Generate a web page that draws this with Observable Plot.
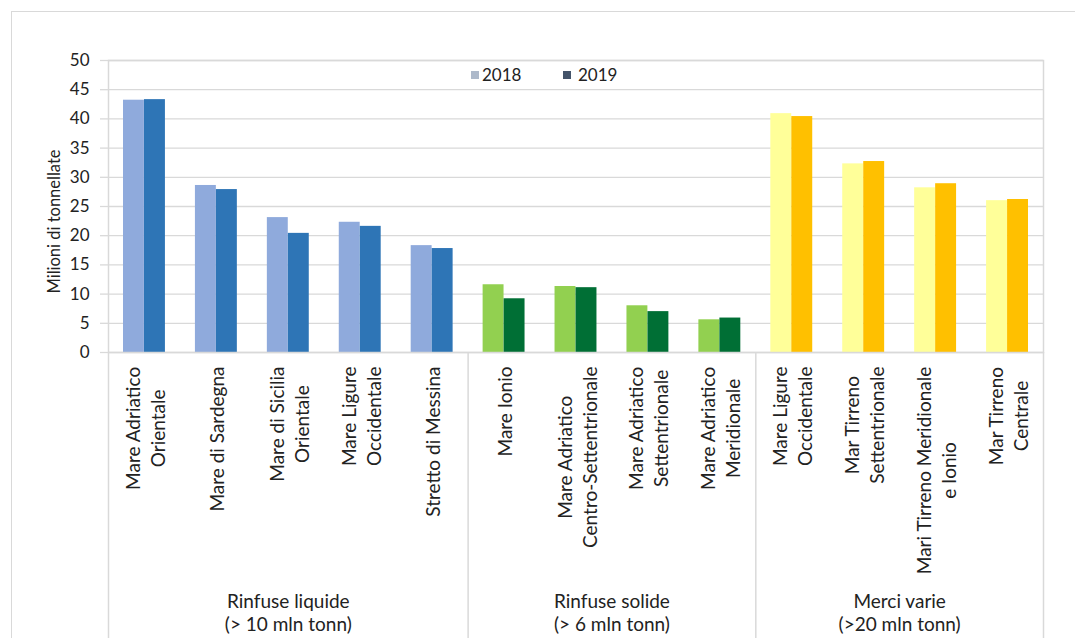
<!DOCTYPE html>
<html><head><meta charset="utf-8">
<script src="https://cdn.jsdelivr.net/npm/d3@7"></script>
<script src="https://cdn.jsdelivr.net/npm/@observablehq/plot@0.6"></script>
<style>
body{margin:0;background:#fff;font-family:Lato,sans-serif}
#wrap{position:relative;width:1075px;height:638px;overflow:hidden;background:#fff}
#border{position:absolute;left:11px;top:11px;width:1200px;height:800px;border-left:1.5px solid #d9d9d9;border-top:1.5px solid #d9d9d9}
#chart{position:absolute;left:0;top:0}
.lg{position:absolute;font-size:17px;color:#222;line-height:20px}
.sw{position:absolute;width:8px;height:8px}
</style></head>
<body>
<div id="wrap"><div id="border"></div><div id="chart"></div>
<div class="sw" style="left:471px;top:71px;background:#ADB9CA"></div><div class="lg" style="left:482px;top:65px">2018</div>
<div class="sw" style="left:563px;top:71px;background:#44546A"></div><div class="lg" style="left:578px;top:65px">2019</div>
</div>
<script>
const categories = [
  "Mare Adriatico\nOrientale","Mare di Sardegna","Mare di Sicilia\nOrientale","Mare Ligure\nOccidentale","Stretto di Messina",
  "Mare Ionio","Mare Adriatico\nCentro-Settentrionale","Mare Adriatico\nSettentrionale","Mare Adriatico\nMeridionale",
  "Mare Ligure\nOccidentale","Mar Tirreno\nSettentrionale","Mari Tirreno Meridionale\ne Ionio","Mar Tirreno\nCentrale"
];
const groupOf = [0,0,0,0,0,1,1,1,1,2,2,2,2];
const groupLabels = ["Rinfuse liquide\n(> 10 mln tonn)","Rinfuse solide\n(> 6 mln tonn)","Merci varie\n(>20 mln tonn)"];
const v2018 = [43.2,28.6,23.1,22.3,18.3, 11.6,11.3,8.0,5.6, 40.9,32.3,28.2,26.0];
const v2019 = [43.3,27.9,20.4,21.6,17.8, 9.2,11.1,7.0,5.9, 40.4,32.7,28.9,26.2];
const years = ["2018","2019"];
const yTicks = [0,5,10,15,20,25,30,35,40,45,50];
const colorKeys = ["0-2018","0-2019","1-2018","1-2019","2-2018","2-2019"];
const colorRange = ["#8FAADC","#2E75B6","#92D050","#006F35","#FFFF99","#FFC000"];

const W=1075,H=638,mL=108,mR=32,mT=60,mB=286;
const step=(W-mL-mR)/categories.length;
// unique keys (a category name can repeat across groups)
const ids = categories.map((c,i)=>groupOf[i]+"|"+c);
const rows = categories.flatMap((c,i)=>[
  {id:ids[i],year:"2018",value:v2018[i],key:groupOf[i]+"-2018"},
  {id:ids[i],year:"2019",value:v2019[i],key:groupOf[i]+"-2019"}]);
const labelFont = 19;
const ctx=document.createElement("canvas").getContext("2d");
ctx.font=labelFont+"px Lato";
const textW=s=>Math.max(...s.split("\n").map(l=>ctx.measureText(l).width));
const groupIds = groupLabels.map((g,gi)=>ids.filter((c,i)=>groupOf[i]===gi));
const grid="#d9d9d9";

const chart = Plot.plot({
  width:W,height:H,marginLeft:mL,marginRight:mR,marginTop:mT,marginBottom:mB,
  style:{fontFamily:"Lato, sans-serif",fontSize:"17px",color:"#222",background:"transparent",overflow:"visible"},
  x:{domain:ids,padding:0,round:false,axis:null},
  y:{domain:[0,50],label:null},
  color:{domain:colorKeys,range:colorRange},
  marks:[
    Plot.gridY(yTicks,{stroke:grid,strokeOpacity:1,strokeWidth:1.3}),
    Plot.axisY(yTicks,{tickSize:8,tickPadding:11,stroke:grid,strokeOpacity:1,strokeWidth:1.3,fill:"#222",label:null,fontSize:17}),
    Plot.barY(rows.filter(d=>d.year===years[0]),{x:"id",y:"value",fill:"key",insetLeft:15,insetRight:36}),
    Plot.barY(rows.filter(d=>d.year===years[1]),{x:"id",y:"value",fill:"key",insetLeft:36,insetRight:15}),
    Plot.frame({stroke:grid,strokeWidth:1.5}),
    Plot.ruleX(groupIds.map(g=>g[0]),{x:d=>d,dx:-step/2,y1:0,y2:0,insetBottom:-mB,stroke:grid,strokeWidth:1.5}),
    Plot.ruleX([ids[ids.length-1]],{x:d=>d,dx:step/2,y1:0,y2:0,insetBottom:-mB,stroke:grid,strokeWidth:1.5}),
    ...categories.map((c,i)=>Plot.text([c],{x:()=>ids[i],frameAnchor:"bottom",rotate:-90,textAnchor:"middle",lineAnchor:"middle",lineHeight:25/labelFont,fontSize:labelFont,dy:14+textW(c)/2,fill:"#222"})),
    ...groupLabels.map((g,gi)=>Plot.text([g],{x:()=>groupIds[gi][0],dx:(groupIds[gi].length-1)/2*step,frameAnchor:"bottom",dy:259.5,lineAnchor:"middle",lineHeight:23/labelFont,fontSize:labelFont,textAnchor:"middle",fill:"#222"})),
    Plot.text(["Milioni di tonnellate"],{frameAnchor:"left",rotate:-90,textAnchor:"middle",dx:-54,dy:15,fontSize:16.5,fill:"#222"})
  ]
});
document.getElementById("chart").appendChild(chart);
</script>
</body></html>
